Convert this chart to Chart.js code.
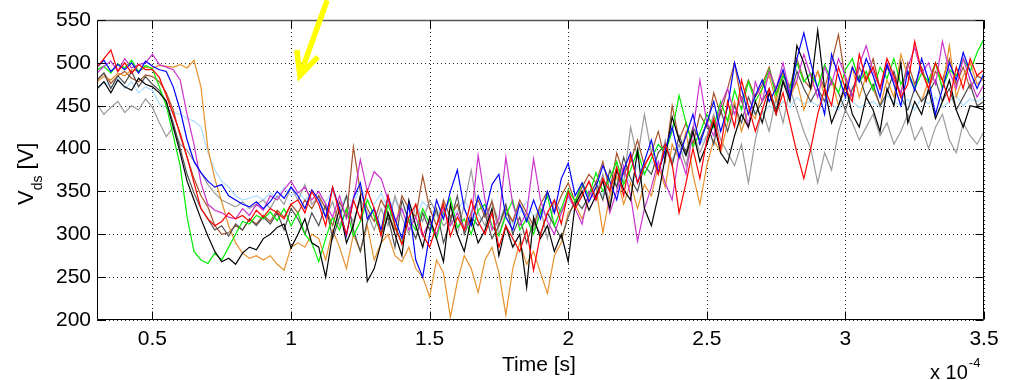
<!DOCTYPE html>
<html>
<head>
<meta charset="utf-8">
<script src="https://cdn.jsdelivr.net/npm/chart.js@4.4.1/dist/chart.umd.min.js"></script>
<style>
html,body{margin:0;padding:0;background:#fff;}
#wrap{width:1011px;height:380px;position:relative;}
</style>
</head>
<body>
<div id="wrap"><canvas id="c"></canvas></div>
<script>
// sample times (units of 1e-4 s)
const t = [];
for (let i = 0; i <= 128; i++) t.push(+(0.3 + 0.025 * i).toFixed(3));

const xTicks = [0.5, 1, 1.5, 2, 2.5, 3, 3.5];
const yTicks = [200, 250, 300, 350, 400, 450, 500, 550];

const green = [
492,496,488,499,494,503,490,497,
493,472,450,415,380,320,280,270,
266,278,270,285,300,315,312,322,
318,326,316,330,310,325,300,290,
268,295,320,305,330,298,315,340,
322,300,335,310,290,318,305,330,
312,295,325,342,308,318,300,328,
335,310,298,322,340,305,318,300,
325,345,310,330,352,338,360,345,
372,350,365,385,358,375,398,370,
388,405,395,420,462,430,402,418,
440,425,455,432,468,445,478,455,
470,492,462,485,470,500,478,488,
472,498,480,465,492,505,478,490,
468,495,482,505,475,490,470,488,
478,500,470,492,485,505,490,512,
528];
const blue = [
495,503,490,498,492,500,488,502,
496,492,490,472,445,410,385,372,
362,355,358,345,340,335,332,338,
330,338,350,342,355,345,330,352,
340,320,355,330,298,342,360,318,
330,305,345,318,295,335,270,250,
300,340,318,350,375,330,310,345,
325,358,370,320,305,335,315,340,
318,350,325,365,383,345,360,338,
355,380,362,340,375,395,360,385,
410,372,398,425,390,415,440,405,
430,455,420,448,500,470,440,462,
480,455,470,492,460,505,535,500,
470,440,510,485,460,495,478,505,
485,460,498,475,450,490,468,505,
480,440,470,500,480,512,490,470,
488];
const black = [
470,478,465,480,472,468,482,475,
472,465,455,425,395,362,340,318,
298,280,268,272,265,278,285,282,
295,300,308,312,284,300,318,290,
285,250,300,330,290,310,345,245,
260,290,325,300,275,340,310,285,
320,295,268,335,300,280,318,290,
305,330,275,310,285,300,238,320,
295,310,280,300,268,335,350,328,
345,362,330,375,352,340,398,330,
310,345,390,437,410,392,420,385,
405,430,395,383,415,440,425,455,
430,465,440,478,455,520,500,470,
538,470,430,450,475,440,425,460,
445,420,470,450,500,430,455,440,
470,435,455,480,445,425,450,448,
445];
const red = [
495,505,515,490,500,488,498,492,
492,483,462,440,418,390,360,330,
318,310,315,325,318,322,315,328,
320,330,325,318,335,340,325,350,
335,310,355,325,300,340,318,352,
330,298,345,310,288,320,335,300,
285,310,335,298,320,305,340,315,
300,325,285,310,295,280,305,258,
300,325,340,312,350,330,345,362,
340,365,350,378,345,392,360,380,
395,370,405,382,325,360,400,365,
410,435,400,455,425,480,450,420,
445,470,440,465,430,395,365,400,
440,470,450,495,470,455,510,480,
495,470,505,485,460,475,525,490,
470,500,480,455,495,470,505,485,
492];
const magenta = [
488,496,502,490,505,494,498,500,
510,498,495,492,480,440,405,360,
335,328,325,320,318,330,322,335,
328,345,340,352,362,348,355,340,
350,335,320,345,318,340,387,350,
373,365,340,315,330,305,320,298,
315,300,330,310,325,305,318,392,
340,305,318,390,335,310,325,388,
340,315,300,325,345,330,312,350,
340,365,325,350,380,345,292,330,
355,385,360,340,395,370,420,480,
430,415,450,470,440,460,425,478,
455,490,470,500,465,480,510,485,
460,495,475,505,485,460,498,520,
490,470,500,480,465,495,518,488,
500,475,525,490,470,505,480,460,
475];
const orange = [
478,484,480,488,485,492,490,495,
494,497,496,495,498,494,503,472,
400,365,338,310,290,278,272,275,
270,275,265,258,285,290,285,300,
295,270,305,285,260,300,280,310,
270,290,300,275,268,285,260,250,
227,270,255,203,245,275,260,232,
270,285,255,206,260,290,265,280,
255,231,275,290,325,335,318,340,
355,302,345,368,335,360,330,358,
345,380,355,405,388,420,370,335,
380,410,395,430,455,420,445,435,
470,485,455,490,460,478,445,470,
490,462,480,450,470,495,460,485,
470,450,480,460,510,485,470,455,
480,500,470,520,460,485,500,475,
482];
const gray = [
452,440,448,455,442,450,445,458,
448,430,414,425,405,398,385,372,
358,348,340,336,332,338,330,335,
340,330,345,335,355,340,358,335,
345,320,338,310,330,315,340,325,
305,330,310,345,320,300,335,315,
340,325,310,318,300,335,375,325,
310,340,300,325,315,335,320,305,
330,295,340,325,345,330,350,360,
345,370,335,380,360,425,390,440,
395,370,410,385,405,380,420,395,
415,440,410,395,380,405,360,410,
445,420,460,430,470,445,420,400,
360,395,375,420,445,430,410,425,
440,415,430,405,420,440,410,425,
400,425,440,410,395,430,415,405,
420];
const lightblue = [
468,478,472,482,470,478,465,472,
468,452,448,442,440,435,432,425,
395,375,362,355,345,340,342,345,
340,348,342,355,345,350,340,348,
345,338,350,330,345,335,355,340,
335,348,330,340,325,335,320,338,
330,322,335,318,328,340,325,315,
322,335,318,330,312,325,338,320,
330,318,335,325,340,332,345,350,
355,345,365,358,372,360,380,370,
385,375,395,388,400,392,410,405,
415,425,420,435,428,440,432,445,
440,450,445,455,448,460,452,455,
450,458,452,445,460,455,448,452,
455,448,462,455,450,458,445,460,
452,460,448,455,462,450,458,455,
460];
const brown = [
480,488,476,485,490,482,478,486,
484,478,465,445,415,390,365,345,
332,310,300,302,310,305,318,312,
322,315,328,320,335,325,340,330,
345,330,310,338,320,402,350,330,
315,340,325,305,345,330,320,368,
330,310,340,320,335,305,325,340,
320,338,310,330,315,340,325,310,
335,350,325,345,360,338,355,370,
360,385,350,395,370,385,410,380,
395,420,385,450,410,430,405,440,
425,465,440,470,500,455,480,460,
475,495,465,488,472,505,480,470,
490,470,500,533,480,460,495,478,
505,470,495,480,465,500,475,495,
470,490,480,505,475,495,470,485,
480];
const darkgray = [
480,488,470,485,476,490,472,484,
475,468,455,430,400,370,348,330,
318,305,310,298,312,305,318,310,
320,312,325,305,330,318,300,325,
310,335,295,320,345,305,280,315,
330,300,320,285,340,315,295,325,
305,330,290,315,345,300,320,310,
325,295,310,335,300,320,290,315,
300,325,310,295,320,340,330,345,
360,340,375,355,390,365,350,380,
370,395,405,380,415,395,425,410,
430,405,445,420,450,430,460,440,
455,470,445,480,460,490,470,455,
470,455,480,465,445,470,485,460,
475,450,465,490,460,445,470,455,
465,480,455,470,445,460,475,450,
455];

// annotation arrow, in data units
const arrowTail = {x: 1.13, y: 573};
const arrowTip = {x: 1.032, y: 485};
const arrowBarbL = {x: 1.021, y: 515};
const arrowBarbR = {x: 1.097, y: 507};

const FONT = "'Liberation Sans', Arial, Helvetica, sans-serif";

const series = [
  {d: red, c: '#ff0000'},
  {d: blue, c: '#0000ff'},
  {d: black, c: '#000000'},
  {d: magenta, c: '#cc33cc'},
  {d: green, c: '#00ee00'},
  {d: darkgray, c: '#505050'},
  {d: orange, c: '#e8912c'},
  {d: brown, c: '#a8532a'},
  {d: gray, c: '#9a9a9a'},
  {d: lightblue, c: '#aadcff'}
];

const matlabAxes = {
  id: 'matlabAxes',
  beforeDatasetsDraw(chart) {
    const {ctx, chartArea: a, scales: {x, y}} = chart;
    ctx.save();
    ctx.strokeStyle = '#222';
    ctx.lineWidth = 1;
    ctx.setLineDash([1, 3]);
    xTicks.forEach(v => {
      const px = Math.round(x.getPixelForValue(v)) + 0.5;
      ctx.beginPath(); ctx.moveTo(px, a.top); ctx.lineTo(px, a.bottom); ctx.stroke();
    });
    yTicks.forEach(v => {
      const py = Math.round(y.getPixelForValue(v)) + 0.5;
      ctx.beginPath(); ctx.moveTo(a.left, py); ctx.lineTo(a.right, py); ctx.stroke();
    });
    ctx.restore();
  },
  afterDatasetsDraw(chart) {
    const {ctx, chartArea: a, scales: {x, y}} = chart;
    ctx.save();
    ctx.setLineDash([]);
    ctx.lineWidth = 1;
    ctx.strokeStyle = '#000';
    const L = Math.round(a.left) + 0.5, R = Math.round(a.right) - 0.5;
    const T = Math.round(a.top) + 0.5, B = Math.round(a.bottom) - 0.5;
    ctx.beginPath();
    ctx.moveTo(L, T); ctx.lineTo(L, B); ctx.lineTo(R, B); ctx.lineTo(R, T);
    ctx.stroke();
    ctx.strokeStyle = '#555';
    ctx.lineWidth = 1.5;
    ctx.beginPath(); ctx.moveTo(L, T); ctx.lineTo(R, T); ctx.stroke();
    ctx.strokeStyle = '#000';
    ctx.lineWidth = 1;
    const tl = 8;
    xTicks.forEach(v => {
      const px = Math.round(x.getPixelForValue(v)) + 0.5;
      ctx.beginPath(); ctx.moveTo(px, B); ctx.lineTo(px, B - tl); ctx.stroke();
      ctx.beginPath(); ctx.moveTo(px, T); ctx.lineTo(px, T + tl); ctx.stroke();
    });
    yTicks.forEach(v => {
      const py = Math.round(y.getPixelForValue(v)) + 0.5;
      ctx.beginPath(); ctx.moveTo(L, py); ctx.lineTo(L + tl, py); ctx.stroke();
      ctx.beginPath(); ctx.moveTo(R, py); ctx.lineTo(R - tl, py); ctx.stroke();
    });
    ctx.restore();
  },
  afterDraw(chart) {
    const {ctx, scales: {x, y}} = chart;
    ctx.save();
    // arrow
    const P = p => [x.getPixelForValue(p.x), y.getPixelForValue(p.y)];
    const tail = P(arrowTail), tip = P(arrowTip), bl = P(arrowBarbL), br = P(arrowBarbR);
    ctx.strokeStyle = '#ffff00';
    ctx.lineWidth = 5.5;
    ctx.lineJoin = 'miter';
    ctx.lineCap = 'butt';
    ctx.beginPath(); ctx.moveTo(tail[0], tail[1]); ctx.lineTo(tip[0], tip[1]); ctx.stroke();
    ctx.beginPath(); ctx.moveTo(bl[0], bl[1]); ctx.lineTo(tip[0], tip[1]); ctx.lineTo(br[0], br[1]); ctx.stroke();

    ctx.fillStyle = '#000';
    // x title
    ctx.font = '21px ' + FONT;
    ctx.textAlign = 'center';
    ctx.textBaseline = 'alphabetic';
    ctx.fillText('Time [s]', 539, 371);
    // exponent
    ctx.textAlign = 'left';
    ctx.font = '20px ' + FONT;
    ctx.fillText('x 10', 930, 379);
    const w10 = ctx.measureText('x 10').width;
    ctx.font = '13px ' + FONT;
    ctx.fillText('-4', 930 + w10 + 1, 367);
    // y title
    ctx.translate(33, 205);
    ctx.rotate(-Math.PI / 2);
    ctx.textAlign = 'left';
    ctx.font = '22px ' + FONT;
    ctx.fillText('V', 0, 0);
    let w = ctx.measureText('V').width;
    ctx.font = '14px ' + FONT;
    ctx.fillText('ds', w, 9);
    w += ctx.measureText('ds').width;
    ctx.font = '22px ' + FONT;
    ctx.fillText(' [V]', w, 0);
    ctx.restore();
  }
};

new Chart(document.getElementById('c'), {
  type: 'line',
  data: {
    datasets: series.map(s => ({
      data: s.d.map((v, i) => ({x: t[i], y: v})),
      borderColor: s.c,
      borderWidth: 1.2,
      pointRadius: 0,
      tension: 0,
      fill: false
    }))
  },
  options: {
    responsive: true,
    maintainAspectRatio: false,
    animation: false,
    devicePixelRatio: 1,
    layout: {padding: {left: 0, right: 27, top: 20, bottom: 0}},
    plugins: {legend: {display: false}, tooltip: {enabled: false}},
    scales: {
      x: {
        type: 'linear', min: 0.3, max: 3.5,
        grid: {display: false, drawTicks: false},
        border: {display: false},
        afterBuildTicks: s => { s.ticks = xTicks.map(v => ({value: v})); },
        afterFit: s => { s.height = 60; },
        ticks: {
          color: '#000', padding: 7, maxRotation: 0, autoSkip: false,
          font: {family: FONT, size: 21},
          callback: v => String(v)
        }
      },
      y: {
        type: 'linear', min: 200, max: 550,
        grid: {display: false, drawTicks: false},
        border: {display: false},
        afterBuildTicks: s => { s.ticks = yTicks.map(v => ({value: v})); },
        afterFit: s => { s.width = 97; },
        ticks: {
          color: '#000', padding: 6, autoSkip: false,
          font: {family: FONT, size: 21},
          callback: v => String(v)
        }
      }
    }
  },
  plugins: [matlabAxes]
});
</script>
</body>
</html>
